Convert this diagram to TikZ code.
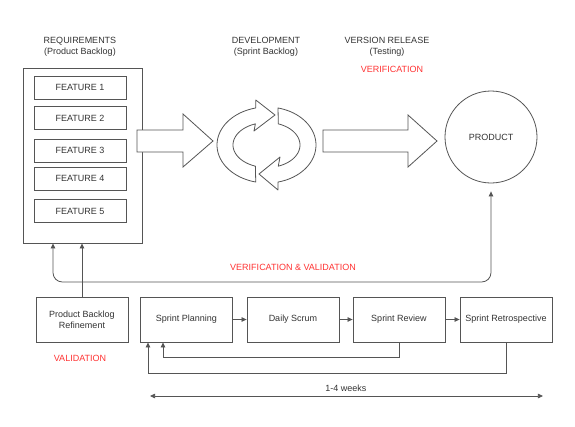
\documentclass[tikz,border=0pt]{standalone}
\usepackage{fontspec}
\setmainfont{Liberation Sans}
\usetikzlibrary{arrows.meta}
\definecolor{ln}{HTML}{555555}
\definecolor{tx}{HTML}{333333}
\definecolor{rd}{HTML}{FF3333}
\begin{document}
\begin{tikzpicture}[x=0.75pt,y=-0.75pt,
  every node/.style={font=\fontsize{6.75}{8.25}\selectfont, text=tx, align=center},
  box/.style={draw=ln, line width=0.6pt, fill=white, inner sep=0pt, minimum width=69pt, minimum height=33.75pt},
  feat/.style={draw=ln, line width=0.6pt, fill=white, inner sep=0pt, minimum width=69pt, minimum height=17.25pt},
  blockarrow/.style={draw=ln, line width=0.6pt, fill=white, line join=miter},
  conn/.style={draw=ln, line width=0.6pt},
  tip/.style={-{Triangle[length=3.8pt,width=3.4pt]}},
  redtxt/.style={text=rd}]
\fill[white] (0,0) rectangle (575,426);
\useasboundingbox (0,0) rectangle (575,426);

% titles
\node (treq) at (80,46.5) {REQUIREMENTS\\(Product Backlog)};
\node (tdev) at (266,46.5) {DEVELOPMENT\\(Sprint Backlog)};
\node (trel) at (387,46.5) {VERSION RELEASE\\(Testing)};
\node[redtxt] (tver) at (392,69) {VERIFICATION};

% requirements container
\node[draw=ln, line width=0.6pt, inner sep=0pt, minimum width=89.25pt, minimum height=131.25pt] (req) at (82.5,155.5) {};
\node[feat] (f1) at (80,87.5) {FEATURE 1};
\node[feat] (f2) at (80,118) {FEATURE 2};
\node[feat] (f3) at (80,150.5) {FEATURE 3};
\node[feat] (f4) at (80,178.5) {FEATURE 4};
\node[feat] (f5) at (80,211) {FEATURE 5};

% block arrows
\draw[blockarrow] (137,130) -- (183,130) -- (183,114) -- (213,141) -- (183,167) -- (183,152) -- (137,152) -- cycle;
\draw[blockarrow] (323,130) -- (408,130) -- (408,115) -- (437,141) -- (408,167) -- (408,152) -- (323,152) -- cycle;

% cycle arrows
\draw[blockarrow, line join=round]
  plot[domain=257.0:103.0, samples=40] ({267+50*cos(\x)},{145-38*sin(\x)})
  -- (255.8,100) -- (275,115) -- (254,131)
  -- plot[domain=110.0:250.0, samples=40] ({267+34*cos(\x)},{145-22.5*sin(\x)})
  -- cycle;
\draw[blockarrow, line join=round]
  plot[domain=77.0:-77.0, samples=40] ({267+49*cos(\x)},{145-38*sin(\x)})
  -- (278,190) -- (259,174) -- (280,157)
  -- plot[domain=-70.0:70.0, samples=40] ({267+33*cos(\x)},{145-22.5*sin(\x)})
  -- cycle;

% product
\node[draw=ln, line width=0.6pt, circle, minimum size=69pt, inner sep=0pt] (prod) at (491,137) {PRODUCT};

% bottom boxes
\node[box] (pbr) at (82,319.5) {Product Backlog\\Refinement};
\node[box] (sp) at (186.5,319.5) {Sprint Planning};
\node[box] (ds) at (293,319.5) {Daily Scrum};
\node[box] (sr) at (399,319.5) {Sprint Review};
\node[box] (sret) at (506,319.5) {Sprint Retrospective};
\node[redtxt] (tval) at (80,358) {VALIDATION};
\node[redtxt] (tvv) at (293,267) {VERIFICATION \& VALIDATION};

% connectors
\draw[conn, tip] (sp) -- (ds);
\draw[conn, tip] (ds) -- (sr);
\draw[conn, tip] (sr) -- (sret);
\draw[conn, tip] (pbr.north) -- (pbr.north |- req.south);

\coordinate (vvL) at (53,282);
\coordinate (vvR) at (491,282);
\draw[conn, {Triangle[length=3.8pt,width=3.4pt]}-{Triangle[length=3.8pt,width=3.4pt]}, rounded corners=7pt, shorten >=6pt]
  (vvL |- req.south) -- (vvL) -- (vvR) -- (prod.south);

\coordinate (fb1) at (163,357);
\coordinate (fb2) at (148,373);
\draw[conn, tip] (sr.south) |- (fb1) -- (fb1 |- sp.south);
\draw[conn, tip] (sret.south) |- (fb2) -- (fb2 |- sp.south);

\coordinate (wL) at (150,396);
\coordinate (wR) at (543,396);
\draw[conn, {Triangle[length=3.8pt,width=3.4pt]}-{Triangle[length=3.8pt,width=3.4pt]}] (wL) -- (wR);
\node (tweeks) at (346,388) {1-4 weeks};
\end{tikzpicture}
\end{document}
